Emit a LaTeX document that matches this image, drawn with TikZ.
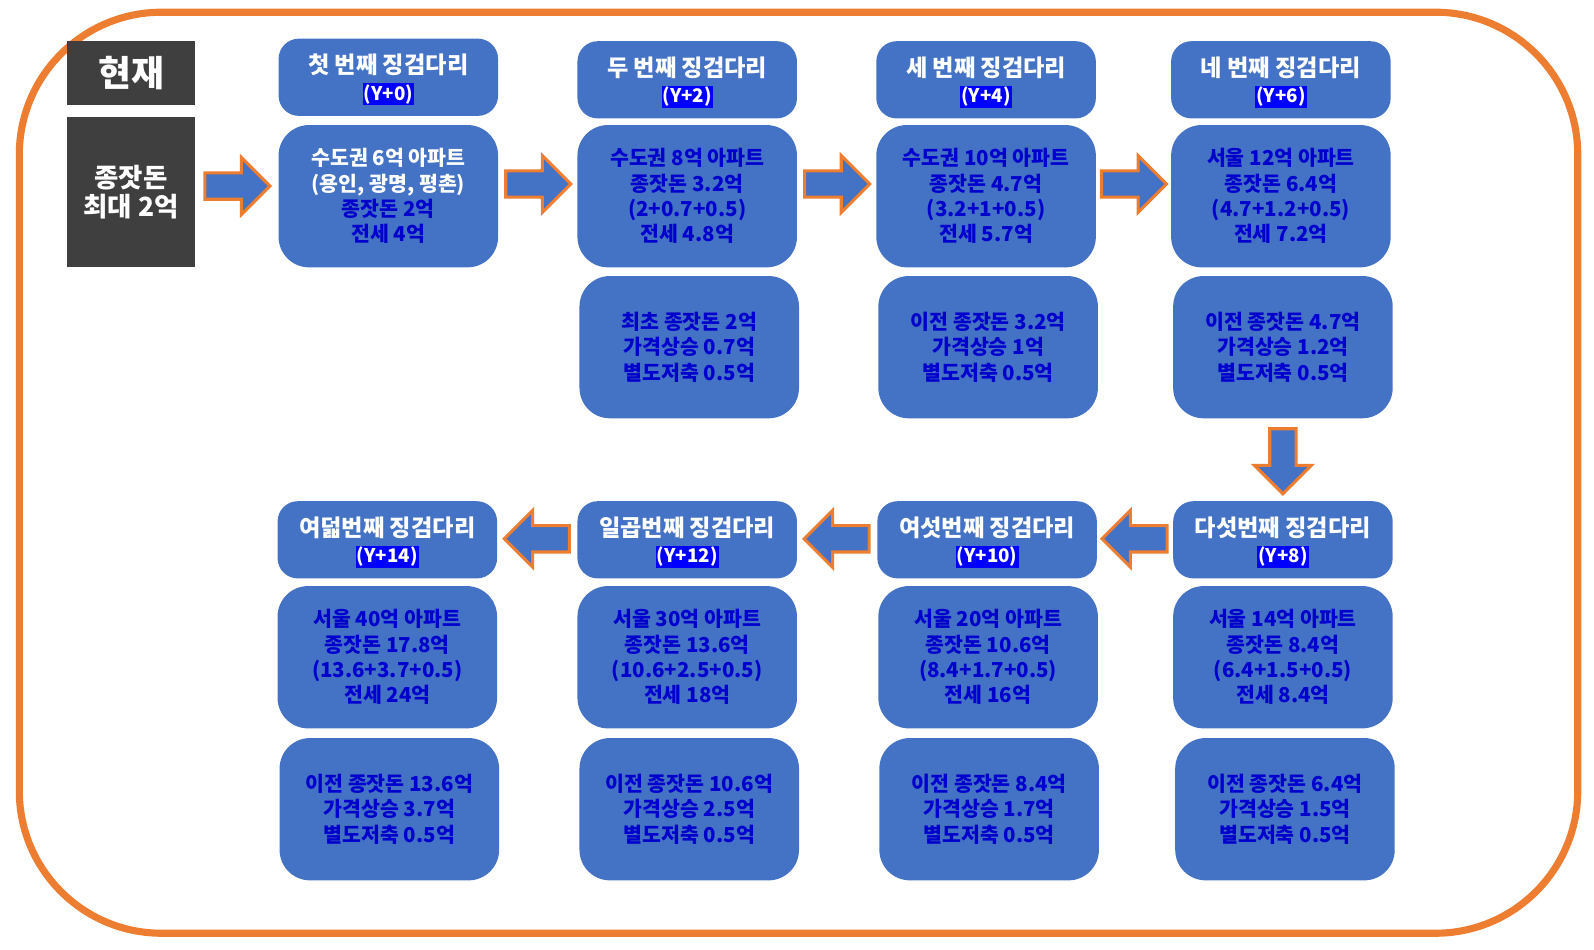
\documentclass[tikz,border=0pt]{standalone}
\usepackage{fontspec}
\setmainfont{Noto Sans CJK KR}
\usepackage{tikz}
\usetikzlibrary{shapes.arrows,calc}

\definecolor{boxblue}{HTML}{4472C4}
\definecolor{frameorange}{HTML}{ED7D31}
\definecolor{nowgray}{HTML}{3F3F3F}
\definecolor{textblue}{RGB}{0,0,204}
\definecolor{tagblue}{RGB}{0,0,255}

\newcommand{\ytag}[1]{{\fontsize{10.5}{12}\selectfont\setlength{\fboxsep}{0.6pt}\raisebox{0pt}[\height][0pt]{\colorbox{tagblue}{#1}}}}

\tikzset{
  titlebox/.style={fill=boxblue, rounded corners=0.4cm, minimum width=4.32cm, minimum height=1.52cm,
    align=center, text=white, font=\bfseries\fontsize{13}{14.8}\selectfont},
  mainbox/.style={fill=boxblue, rounded corners=0.6cm, minimum width=4.32cm, minimum height=2.8cm,
    align=center, text=textblue, font=\bfseries\fontsize{11.5}{14.2}\selectfont},
  nowbox/.style={fill=nowgray, minimum width=2.52cm, align=center, text=white},
  stepping/.style={single arrow, fill=boxblue, draw=frameorange, line width=1.7pt,
    minimum height=1.28cm, minimum width=1.06cm, single arrow head extend=0.3cm, inner sep=0.23cm}
}

\begin{document}
\begin{tikzpicture}[x=0.02cm,y=-0.02cm]
		\useasboundingbox (0,0) rectangle (1568,934);
		\draw[frameorange,line width=0.14cm,rounded corners=2.8cm] (19,12) rectangle (1552,918);

		\node[nowbox,minimum height=1.26cm,font=\bfseries\fontsize{20}{22}\selectfont] (now) at (129,71.5) {현재};
		\node[nowbox,minimum height=2.96cm,font=\bfseries\fontsize{14.8}{16}\selectfont] (seed) at (129,189) {종잣돈\\최대 2억};

		% top row
		\node[titlebox] (t1) at (382,76) {첫 번째 징검다리\\\ytag{(Y+0)}};
		\node[titlebox] (t2) at (676,78.5) {두 번째 징검다리\\\ytag{(Y+2)}};
		\node[titlebox] (t3) at (970,78.5) {세 번째 징검다리\\\ytag{(Y+4)}};
		\node[titlebox] (t4) at (1260,78.5) {네 번째 징검다리\\\ytag{(Y+6)}};

		\node[mainbox] (m1) at (382,193) {\textcolor{white}{수도권 6억 아파트}\\\textcolor{white}{(용인, 광명, 평촌)}\\종잣돈 2억\\전세 4억};
		\node[mainbox] (m2) at (676,193) {수도권 8억 아파트\\종잣돈 3.2억\\(2+0.7+0.5)\\전세 4.8억};
		\node[mainbox] (m3) at (970,193) {수도권 10억 아파트\\종잣돈 4.7억\\(3.2+1+0.5)\\전세 5.7억};
		\node[mainbox] (m4) at (1260,193) {서울 12억 아파트\\종잣돈 6.4억\\(4.7+1.2+0.5)\\전세 7.2억};

		\node[mainbox] (e2) at (678,341.5) {최초 종잣돈 2억\\가격상승 0.7억\\별도저축 0.5억};
		\node[mainbox] (e3) at (972,341.5) {이전 종잣돈 3.2억\\가격상승 1억\\별도저축 0.5억};
		\node[mainbox] (e4) at (1262,341.5) {이전 종잣돈 4.7억\\가격상승 1.2억\\별도저축 0.5억};

		% bottom row
		\node[titlebox] (t5) at (1262,531) {다섯번째 징검다리\\\ytag{(Y+8)}};
		\node[titlebox] (t6) at (971,531) {여섯번째 징검다리\\\ytag{(Y+10)}};
		\node[titlebox] (t7) at (676,531) {일곱번째 징검다리\\\ytag{(Y+12)}};
		\node[titlebox] (t8) at (381,531) {여덟번째 징검다리\\\ytag{(Y+14)}};

		\node[mainbox] (m5) at (1262,646.5) {서울 14억 아파트\\종잣돈 8.4억\\(6.4+1.5+0.5)\\전세 8.4억};
		\node[mainbox] (m6) at (972,646.5) {서울 20억 아파트\\종잣돈 10.6억\\(8.4+1.7+0.5)\\전세 16억};
		\node[mainbox] (m7) at (676,646.5) {서울 30억 아파트\\종잣돈 13.6억\\(10.6+2.5+0.5)\\전세 18억};
		\node[mainbox] (m8) at (381,646.5) {서울 40억 아파트\\종잣돈 17.8억\\(13.6+3.7+0.5)\\전세 24억};

		\node[mainbox] (e5) at (1264,796) {이전 종잣돈 6.4억\\가격상승 1.5억\\별도저축 0.5억};
		\node[mainbox] (e6) at (973,796) {이전 종잣돈 8.4억\\가격상승 1.7억\\별도저축 0.5억};
		\node[mainbox] (e7) at (678,796) {이전 종잣돈 10.6억\\가격상승 2.5억\\별도저축 0.5억};
		\node[mainbox] (e8) at (383,796) {이전 종잣돈 13.6억\\가격상승 3.7억\\별도저축 0.5억};

		% arrows
		\node[stepping] (a1) at ($(seed.east)!0.5!(m1.west)+(-6,-8)$) {};
		\node[stepping] (a2) at ($(m1.east)!0.5!(m2.west)+(-6,-12)$) {};
		\node[stepping] (a3) at ($(m2.east)!0.5!(m3.west)+(-6,-12)$) {};
		\node[stepping] (a4) at ($(m3.east)!0.5!(m4.west)+(-6,-12)$) {};
		\node[stepping,shape border rotate=270] (a5) at ($(e4.south)!0.5!(t5.north)+(0,-5)$) {};
		\node[stepping,shape border rotate=180] (a6) at ($(t5.west)!0.5!(t6.east)+(6,-1)$) {};
		\node[stepping,shape border rotate=180] (a7) at ($(t6.west)!0.5!(t7.east)+(6,-1)$) {};
		\node[stepping,shape border rotate=180] (a8) at ($(t7.west)!0.5!(t8.east)+(6,-1)$) {};
	\end{tikzpicture}
\end{document}
